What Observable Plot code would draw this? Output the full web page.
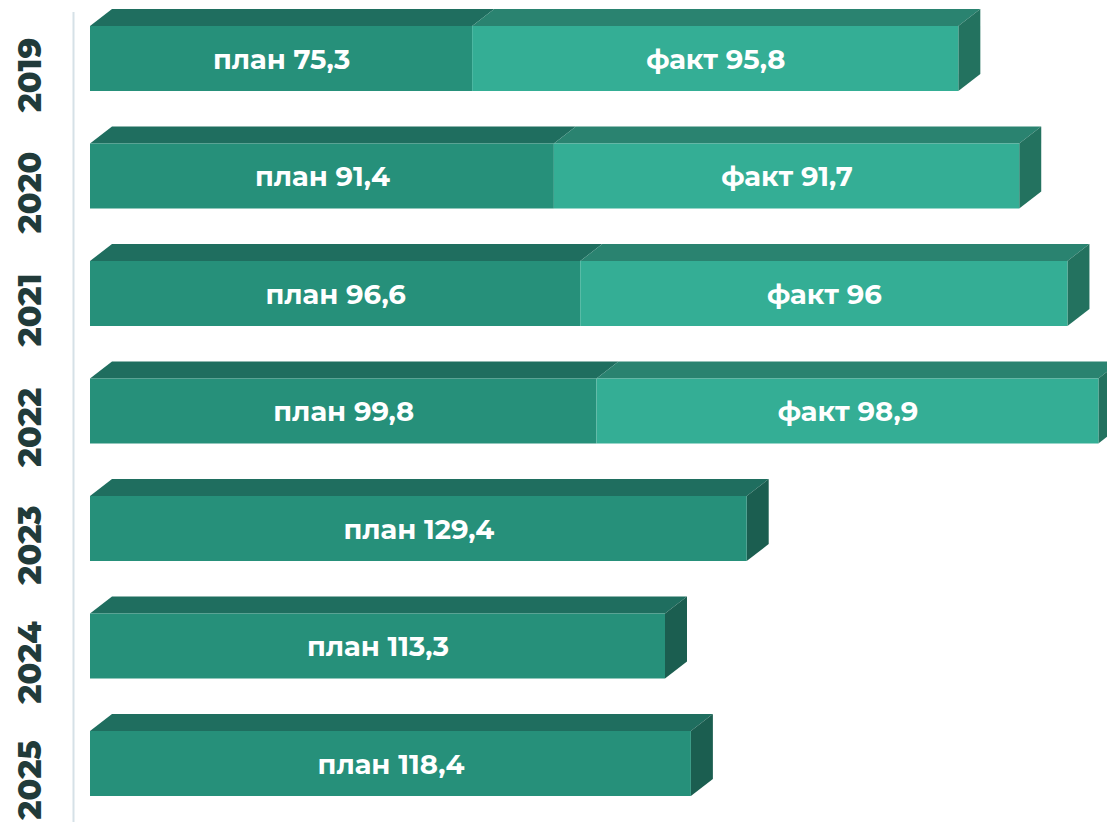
<!DOCTYPE html>
<html>
<head>
<meta charset="utf-8">
<script src="https://cdn.jsdelivr.net/npm/d3@7"></script>
<script src="https://cdn.jsdelivr.net/npm/@observablehq/plot@0.6"></script>
<style>
  html, body { margin: 0; padding: 0; background: #ffffff; }
  #chart { width: 1107px; height: 822px; overflow: hidden; }
</style>
</head>
<body>
<div id="chart"></div>
<script>
// ---- data ----
const years = [2019, 2020, 2021, 2022, 2023, 2024, 2025];
const planValues = [75.3, 91.4, 96.6, 99.8, 129.4, 113.3, 118.4];
const factValues = [95.8, 91.7, 96, 98.9, null, null, null];
const planLabel = "план";
const factLabel = "факт";

// ---- styling constants ----
const W = 1107, H = 822;
const pxPerUnit = 5.075;        // horizontal scale
const pxPerYear = 117.5;        // vertical step
const barHalf = 32.5 / pxPerYear;     // half bar height in year units
const depthX = 22 / pxPerUnit;        // 3D depth (x units)
const depthY = 17 / pxPerYear;        // 3D depth (year units)
const originPx = 90;
const colors = {
  plan: {front: "#26907a", top: "#1f6e5f", side: "#1b5e50"},
  fact: {front: "#34ae95", top: "#2a8370", side: "#23725f"}
};
const fmt = v => String(v).replace(".", ",");

// ---- build segments ----
const segments = [];
years.forEach((y, i) => {
  const p = planValues[i], f = factValues[i];
  segments.push({year: y, kind: "plan", a: 0, b: p, value: p, last: f == null});
  if (f != null) segments.push({year: y, kind: "fact", a: p, b: p + f, value: f, last: true});
});
segments.forEach((s, i) => s.id = i);

const topPts = segments.flatMap(s => [
  {id: s.id, kind: s.kind, y: s.year - barHalf, x1: s.a, x2: s.b},
  {id: s.id, kind: s.kind, y: s.year - barHalf - depthY, x1: s.a + depthX, x2: s.b + depthX}
]);
const sidePts = segments.filter(s => s.last).flatMap(s => [
  {id: s.id, kind: s.kind, x: s.b, y1: s.year + barHalf, y2: s.year - barHalf},
  {id: s.id, kind: s.kind, x: s.b + depthX, y1: s.year + barHalf - depthY, y2: s.year - barHalf - depthY}
]);

const xMin = -originPx / pxPerUnit;
const xMax = (W - originPx) / pxPerUnit;
const axisX = -17 / pxPerUnit;
const yMin = years[0] - 46.5 / pxPerYear;
const yMax = years[years.length - 1] + 58.5 / pxPerYear;

const plot = Plot.plot({
  width: W,
  height: H,
  marginTop: 12,
  marginBottom: 0,
  marginLeft: 0,
  marginRight: 0,
  style: {fontFamily: "Montserrat, Inter, 'Open Sans', sans-serif", background: "#ffffff"},
  x: {domain: [xMin, xMax], axis: null},
  y: {domain: [yMin, yMax], reverse: true, axis: null},
  marks: [
    Plot.ruleX([axisX], {stroke: "#d6e1e7", strokeWidth: 2}),
    Plot.areaX(topPts, {y: "y", x1: "x1", x2: "x2", z: "id", fill: d => colors[d.kind].top, curve: "linear"}),
    Plot.areaY(sidePts, {x: "x", y1: "y1", y2: "y2", z: "id", fill: d => colors[d.kind].side, curve: "linear"}),
    Plot.rect(segments, {
      x1: "a", x2: "b",
      y1: d => d.year - barHalf, y2: d => d.year + barHalf,
      fill: d => colors[d.kind].front
    }),
    Plot.text(segments, {
      x: d => (d.a + d.b) / 2,
      y: "year",
      text: d => `${d.kind === "plan" ? planLabel : factLabel} ${fmt(d.value)}`,
      fill: "#ffffff",
      fontSize: 27.5,
      fontWeight: 700,
      dy: 1
    }),
    Plot.text(years, {
      y: d => d,
      text: d => String(d),
      frameAnchor: "left",
      dx: 30,
      dy: 16,
      rotate: -90,
      textAnchor: "middle",
      lineAnchor: "middle",
      fill: "#213b3a",
      fontSize: 32,
      fontWeight: 800
    })
  ]
});
document.getElementById("chart").appendChild(plot);
</script>
</body>
</html>
